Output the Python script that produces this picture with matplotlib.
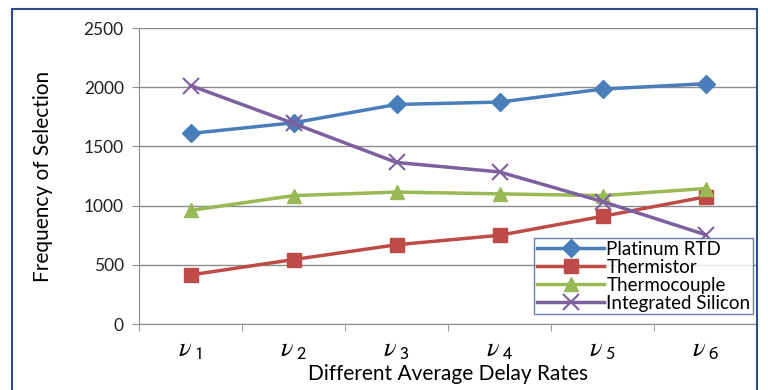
import matplotlib.pyplot as plt
import matplotlib.patches as patches
import numpy as np

# data
categories = [r'$\nu_{\ \mathsf{1}}$', r'$\nu_{\ \mathsf{2}}$', r'$\nu_{\ \mathsf{3}}$',
              r'$\nu_{\ \mathsf{4}}$', r'$\nu_{\ \mathsf{5}}$', r'$\nu_{\ \mathsf{6}}$']
platinum_rtd = [1610, 1700, 1855, 1875, 1985, 2030]
thermistor = [415, 545, 670, 750, 910, 1075]
thermocouple = [960, 1085, 1115, 1100, 1085, 1145]
integrated_silicon = [2015, 1695, 1365, 1285, 1035, 755]

plt.rcParams['font.family'] = ['Lato', 'DejaVu Sans']
plt.rcParams['mathtext.fontset'] = 'stix'

fig = plt.figure(figsize=(7.68, 3.9), dpi=100)
ax = fig.add_axes([139 / 768, 0.169, 618 / 768, 0.759])

# frame round the whole chart
fig.patches.append(patches.Rectangle((12 / 768, -0.05), 745 / 768, 1.05 - 9 / 390,
                                     transform=fig.transFigure, fill=False,
                                     edgecolor='#2F4B8A', linewidth=1.5))

x = np.arange(len(categories))
ax.plot(x, platinum_rtd, color='#4A7EBB', marker='D', markersize=9, linewidth=2.5, label='Platinum RTD')
ax.plot(x, thermistor, color='#BE4B48', marker='s', markersize=10, linewidth=2.5, label='Thermistor')
ax.plot(x, thermocouple, color='#98B954', marker='^', markersize=10, linewidth=2.5, label='Thermocouple')
ax.plot(x, integrated_silicon, color='#7D60A0', marker='x', markersize=11, markeredgewidth=1.5,
        linewidth=2.5, label='Integrated Silicon')

ax.set_xlim(-0.5, 5.5)
ax.set_ylim(0, 2500)
ax.set_yticks([0, 500, 1000, 1500, 2000, 2500])
ax.yaxis.grid(True, color='#8C8C8C', linewidth=1)
ax.set_axisbelow(True)

ax.set_xticks(x)
ax.set_xticklabels(categories, fontsize=19)
ax.set_xticks(np.arange(-0.5, 6.0, 1), minor=True)
ax.tick_params(axis='x', which='major', length=0, pad=9)
ax.tick_params(axis='x', which='minor', length=5, color='#8C8C8C', direction='out')
ax.tick_params(axis='y', labelsize=12.5, length=5, color='#8C8C8C', colors='#222222', pad=6)

for side in ['top', 'right']:
    ax.spines[side].set_visible(False)
for side in ['left', 'bottom']:
    ax.spines[side].set_color('#8C8C8C')

ax.set_xlabel('Different Average Delay Rates', fontsize=15, labelpad=2)
ax.set_ylabel('Frequency of Selection', fontsize=15, labelpad=22)

leg = ax.legend(loc='lower right', bbox_to_anchor=(1.0, 0.02), fontsize=13.5, frameon=True,
                fancybox=False, borderpad=0.15, labelspacing=0.05, handlelength=3.6,
                handletextpad=0.1, borderaxespad=0.2)
leg.get_frame().set_edgecolor('#4A5FA0')
leg.get_frame().set_linewidth(1)

fig.savefig('out.png', dpi=100)
